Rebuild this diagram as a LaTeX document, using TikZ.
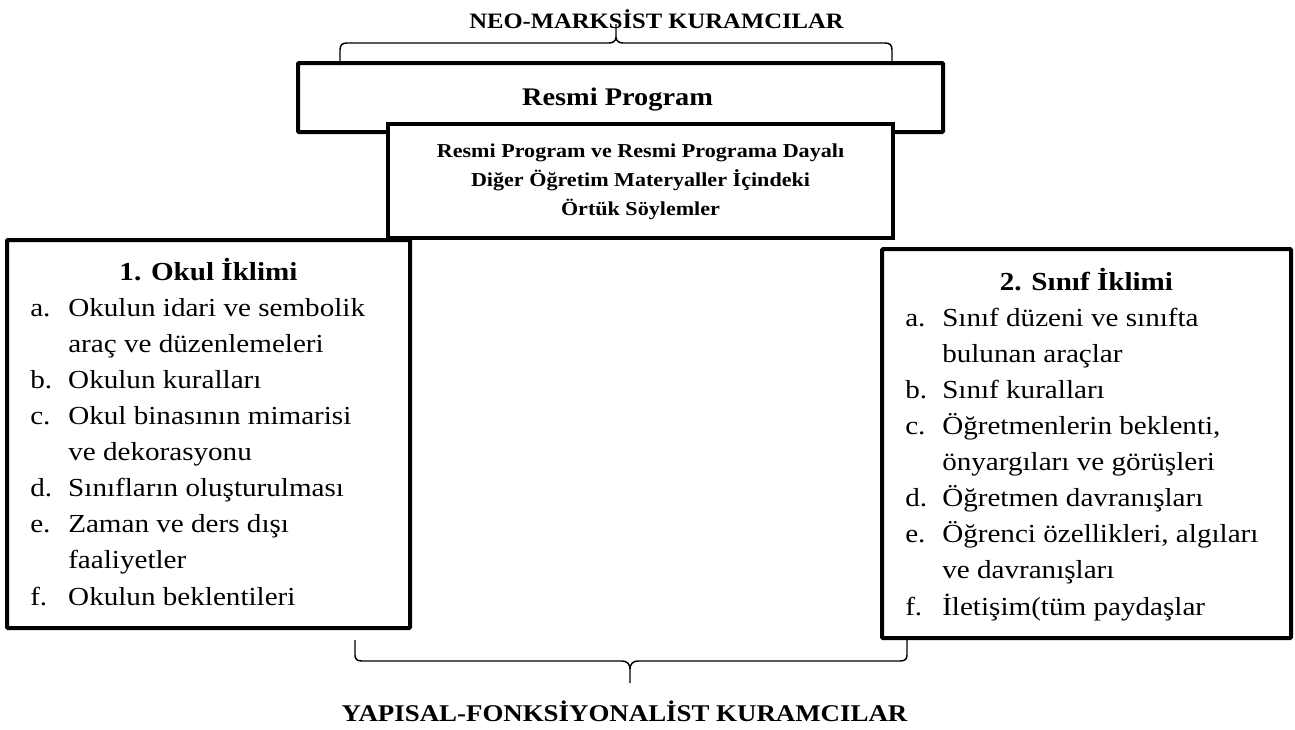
\documentclass[tikz,border=0pt]{standalone}
\usepackage{fontspec}
\setmainfont{Liberation Serif}[FakeStretch=1.12]
\usetikzlibrary{fit}
\begin{document}
\begin{tikzpicture}[x=0.75pt,y=-0.75pt,
  thickbox/.style={draw, line width=3pt, inner sep=0pt, outer sep=0pt, fill=white, rounded corners=0.8pt},
  innerbox/.style={draw, line width=2.5pt, inner sep=0pt, outer sep=0pt, fill=white},
  bline/.style={line width=1.1pt, line join=round},
  heading/.style={font=\bfseries\fontsize{16.5}{20}\selectfont, anchor=base, inner sep=0pt},
  bheading/.style={font=\bfseries\fontsize{18}{22}\selectfont, anchor=base, inner sep=0pt},
  boxtitle/.style={font=\bfseries\fontsize{19.5}{27}\selectfont, anchor=base, inner sep=0pt},
  listtext/.style={font=\fontsize{19.5}{27.1}\selectfont, anchor=base west, inner sep=0pt},
  innertext/.style={font=\bfseries\fontsize{14.8}{21.75}\selectfont, align=center, inner sep=0pt}]
\useasboundingbox (0,0) rectangle (1295,729);

% Resmi Program box
\coordinate (rpA) at (298,63);
\coordinate (rpB) at (943,132);
\node[thickbox, fit=(rpA)(rpB)] (rp) {};
\node[boxtitle, font=\bfseries\fontsize{19}{27}\selectfont] (rptext) at (617.5,105) {Resmi Program};

% inner box
\coordinate (ibA) at (388,124);
\coordinate (ibB) at (893,238);
\node[innerbox, fit=(ibA)(ibB)] (ib) {};
\node[innertext] (ibtext) at (640.5,182) {Resmi Program ve Resmi Programa Dayalı\\Diğer Öğretim Materyaller İçindeki\\Örtük Söylemler};

% left box
\coordinate (lbA) at (7,240);
\coordinate (lbB) at (410,628);
\node[thickbox, fit=(lbA)(lbB)] (lb) {};
\node[boxtitle] (lbtitle) at (208.5,280) {1. Okul İklimi};
\node[listtext] (lblist) at (30,316) {\begin{tabular}[t]{@{}l@{}l@{}}
\makebox[28.5pt][l]{a.} & Okulun idari ve sembolik\\
 & araç ve düzenlemeleri\\
b. & Okulun kuralları\\
c. & Okul binasının mimarisi\\
 & ve dekorasyonu\\
d. & Sınıfların oluşturulması\\
e. & Zaman ve ders dışı\\
 & faaliyetler\\
f. & Okulun beklentileri
\end{tabular}};

% right box
\coordinate (rbA) at (882,249);
\coordinate (rbB) at (1291,638);
\node[thickbox, fit=(rbA)(rbB)] (rb) {};
\node[boxtitle] (rbtitle) at (1086.5,290) {2. Sınıf İklimi};
\node[listtext] (rblist) at (905,326) {\begin{tabular}[t]{@{}l@{}l@{}}
\makebox[27.75pt][l]{a.} & Sınıf düzeni ve sınıfta\\
 & bulunan araçlar\\
b. & Sınıf kuralları\\
c. & Öğretmenlerin beklenti,\\
 & önyargıları ve görüşleri\\
d. & Öğretmen davranışları\\
e. & Öğrenci özellikleri, algıları\\
 & ve davranışları\\
f. & İletişim(tüm paydaşlar
\end{tabular}};

% top brace
\coordinate (tbL) at (340,65);
\coordinate (tbR) at (892,65);
\coordinate (tbM) at (616,37);
\coordinate (tbTip) at (616,24);
\draw[bline] (tbL) -- (340,50) .. controls (340,45) and (342,43) .. (347,43) -- (609,43) .. controls (613,43) and (616,41) .. (tbM) -- (tbTip);
\draw[bline] (tbR) -- (892,50) .. controls (892,45) and (890,43) .. (885,43) -- (623,43) .. controls (619,43) and (616,41) .. (tbM);
\node[heading] (neo) at (656.5,28) {NEO-MARKSİST KURAMCILAR};

% bottom brace
\coordinate (bbL) at (355,640);
\coordinate (bbR) at (907,640);
\coordinate (bbM) at (630,669);
\coordinate (bbTip) at (630,683);
\draw[bline] (bbL) -- (355,655) .. controls (355,659) and (357,661) .. (362,661) -- (622,661) .. controls (627,661) and (630,664) .. (bbM) -- (bbTip);
\draw[bline] (bbR) -- (907,655) .. controls (907,659) and (905,661) .. (900,661) -- (638,661) .. controls (633,661) and (630,664) .. (bbM);
\node[bheading] (yapi) at (624.5,721) {YAPISAL-FONKSİYONALİST KURAMCILAR};
\end{tikzpicture}
\end{document}
